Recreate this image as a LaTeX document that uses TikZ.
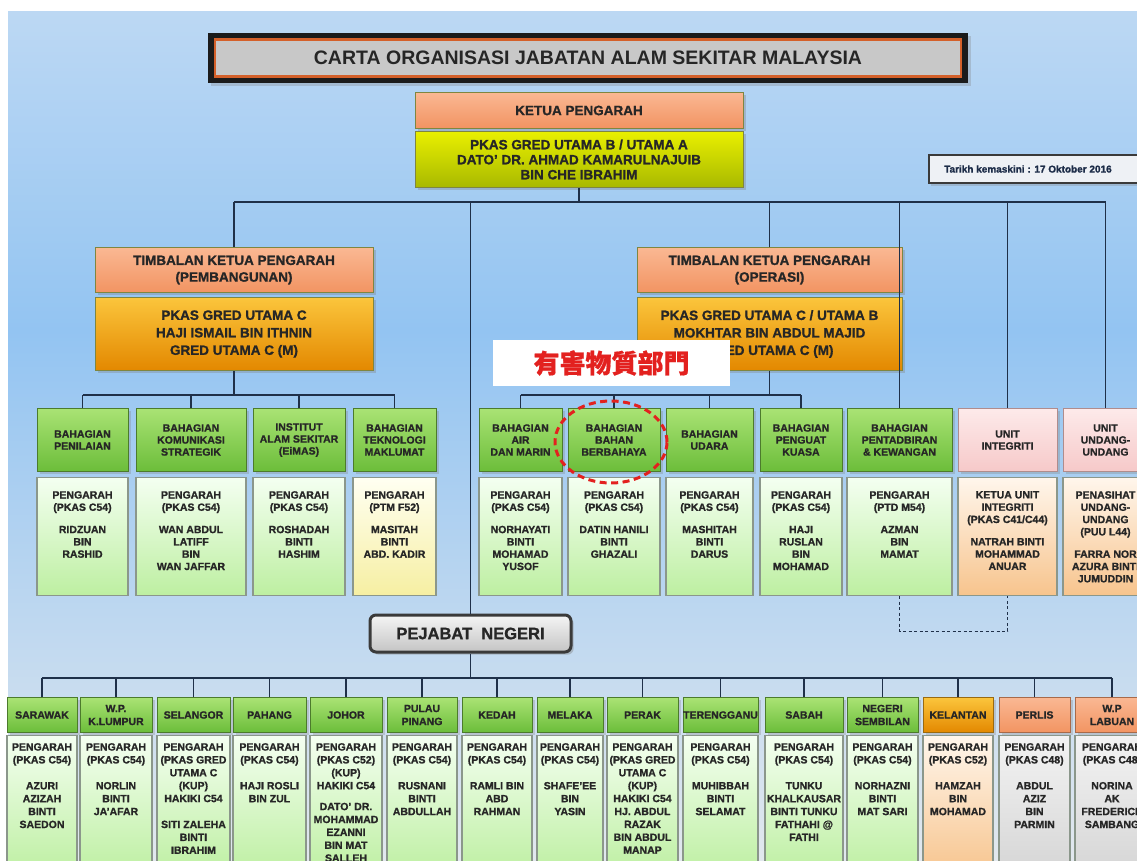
\documentclass[tikz,border=0pt]{standalone}
\usepackage{fontspec}
\setmainfont{Liberation Sans}[BoldFeatures={FakeBold=1.2}]
\newfontfamily\titlefont{Liberation Sans}
\newfontfamily\cjkfont{Noto Sans CJK TC}[FakeBold=0.7]
\usepackage{tikz}
\usetikzlibrary{positioning,shadows,shapes.geometric}

\definecolor{bgtop}{HTML}{BCD8F3}
\definecolor{bgmid}{HTML}{93C4F2}
\definecolor{bgbot}{HTML}{E2E8EE}
\definecolor{wire}{HTML}{1F3049}
\definecolor{ink}{HTML}{262626}
\definecolor{frame}{HTML}{1B1B1B}
\definecolor{titleorange}{HTML}{D4602A}
\definecolor{titlegrey}{HTML}{C8C8C8}
\definecolor{leadline}{HTML}{7F8640}
\definecolor{salT}{HTML}{FAB893}
\definecolor{salB}{HTML}{F29462}
\definecolor{orgT}{HTML}{FBC53C}
\definecolor{orgB}{HTML}{E38800}
\definecolor{limeT}{HTML}{E9F000}
\definecolor{limeB}{HTML}{A8B800}
\definecolor{grnT}{HTML}{AAE374}
\definecolor{grnB}{HTML}{6BBD3A}
\definecolor{grnLine}{HTML}{4C7B2C}
\definecolor{paleT}{HTML}{F4FFF1}
\definecolor{paleB}{HTML}{BDEFA1}
\definecolor{cellLine}{HTML}{8B978B}
\definecolor{pinkT}{HTML}{FDEAEA}
\definecolor{pinkB}{HTML}{F6C9C9}
\definecolor{roseLine}{HTML}{B08C8C}
\definecolor{peachT}{HTML}{FFF6EC}
\definecolor{peachB}{HTML}{F7C48D}
\definecolor{yelT}{HTML}{FFFFF2}
\definecolor{yelB}{HTML}{F6EFA2}
\definecolor{greyT}{HTML}{F3F3F3}
\definecolor{greyB}{HTML}{D5D5D5}
\definecolor{amberLine}{HTML}{9A6A10}
\definecolor{salLine}{HTML}{A86A4A}
\definecolor{datefill}{HTML}{EEF1F5}
\definecolor{datetxt}{HTML}{1C2C48}
\definecolor{pnline}{HTML}{3A3A3A}
\definecolor{pnT}{HTML}{F5F5F5}
\definecolor{pnB}{HTML}{C4C4C4}
\definecolor{alert}{HTML}{E3211F}

\tikzset{
  wire/.style={draw=wire, line width=1.6},
  cell/.style={rectangle, inner sep=0pt, align=center, text=ink},
  lead/.style={cell, anchor=north, draw=leadline, line width=1, drop shadow={opacity=.35}, font=\bfseries\fontsize{13.5}{15}\selectfont},
  hdr/.style={cell, anchor=north, draw=grnLine, line width=1, top color=grnT, bottom color=grnB, drop shadow={opacity=.3}, font=\bfseries\fontsize{10.5}{12}\selectfont},
  bdy/.style={cell, anchor=north, draw=cellLine, line width=1.2, top color=paleT, bottom color=paleB},
  shdr/.style={hdr, minimum height=35, font=\bfseries\fontsize{10.5}{13}\selectfont},
  sbdy/.style={bdy, minimum height=140},
  btxt/.style={cell, font=\bfseries\fontsize{10.5}{12.3}\selectfont},
  stxt/.style={cell, font=\bfseries\fontsize{10.5}{12.9}\selectfont},
  rosehdr/.style={draw=roseLine, top color=pinkT, bottom color=pinkB},
  amberhdr/.style={draw=amberLine, top color=orgT, bottom color=orgB},
  salmonhdr/.style={draw=salLine, top color=salT, bottom color=salB},
  peachbdy/.style={top color=peachT, bottom color=peachB},
  yelbdy/.style={top color=yelT, bottom color=yelB},
  greybdy/.style={top color=greyT, bottom color=greyB},
}

\begin{document}
\begin{tikzpicture}[x=1pt,y=-1pt]
\useasboundingbox (0,0) rectangle (1137,861);
\fill[white] (0,0) rectangle (1137,861);
\shade[top color=bgtop, bottom color=bgmid] (8,12) rectangle (1137,330);
\shade[top color=bgmid, bottom color=bgbot] (8,330) rectangle (1137,861);

\node[fill=frame, minimum width=760, minimum height=50, drop shadow={opacity=.3}] (titlefr) at (588,58) {};
\node[fill=titlegrey, draw=titleorange, line width=2.5, minimum width=746, minimum height=37, text=ink, font=\titlefont\bfseries\fontsize{19.5}{23}\selectfont] (title) at (titlefr.center) {CARTA ORGANISASI JABATAN ALAM SEKITAR MALAYSIA};

\node[lead, top color=salT, bottom color=salB, minimum width=328, minimum height=36] (kp) at (579,92) {KETUA PENGARAH};
\node[lead, top color=limeT, bottom color=limeB, minimum width=328, minimum height=56] (kp2) at (579,131) {PKAS GRED UTAMA B / UTAMA A\\DATO' DR. AHMAD KAMARULNAJUIB\\BIN CHE IBRAHIM};

\node[draw=pnline, line width=1.5, fill=datefill, minimum width=220, minimum height=28, anchor=west, drop shadow={opacity=.3}] (upd) at (928,169) {};
\node[inner sep=0pt, right=16pt of upd.west, text=datetxt, font=\bfseries\fontsize{10}{12}\selectfont] (updtxt) {Tarikh kemaskini : 17 Oktober 2016};

\node[lead, top color=salT, bottom color=salB, minimum width=278, minimum height=45, font=\bfseries\fontsize{13.5}{16.7}\selectfont] (tpL) at (234,247) {TIMBALAN KETUA PENGARAH\\(PEMBANGUNAN)};
\node[lead, top color=orgT, bottom color=orgB, minimum width=278, minimum height=73, font=\bfseries\fontsize{13.5}{17.5}\selectfont] (tpLb) at (234,297) {PKAS GRED UTAMA C\\HAJI ISMAIL BIN ITHNIN\\GRED UTAMA C (M)};
\node[lead, top color=salT, bottom color=salB, minimum width=265, minimum height=45, font=\bfseries\fontsize{13.5}{16.7}\selectfont] (tpR) at (769.5,247) {TIMBALAN KETUA PENGARAH\\(OPERASI)};
\node[lead, top color=orgT, bottom color=orgB, minimum width=265, minimum height=73, font=\bfseries\fontsize{13.5}{17.5}\selectfont] (tpRb) at (769.5,297) {PKAS GRED UTAMA C / UTAMA B\\MOKHTAR BIN ABDUL MAJID\\GRED UTAMA C (M)};

\node[hdr, minimum width=91, minimum height=63] (h1) at (82.5,408) {BAHAGIAN\\PENILAIAN};
\node[hdr, minimum width=110, minimum height=63] (h2) at (191,408) {BAHAGIAN\\KOMUNIKASI\\STRATEGIK};
\node[hdr, minimum width=92, minimum height=63] (h3) at (299,408) {INSTITUT\\ALAM SEKITAR\\(EiMAS)};
\node[hdr, minimum width=83, minimum height=63] (h4) at (394.5,408) {BAHAGIAN\\TEKNOLOGI\\MAKLUMAT};
\node[hdr, minimum width=83, minimum height=63] (h5) at (520.5,408) {BAHAGIAN\\AIR\\DAN MARIN};
\node[hdr, minimum width=92, minimum height=63] (h6) at (614,408) {BAHAGIAN\\BAHAN\\BERBAHAYA};
\node[hdr, minimum width=87, minimum height=63] (h7) at (709.5,408) {BAHAGIAN\\UDARA};
\node[hdr, minimum width=82, minimum height=63] (h8) at (801,408) {BAHAGIAN\\PENGUAT\\KUASA};
\node[hdr, minimum width=105, minimum height=63] (h9) at (899.5,408) {BAHAGIAN\\PENTADBIRAN\\\& KEWANGAN};
\node[hdr, rosehdr, minimum width=99, minimum height=63] (h10) at (1007.5,408) {UNIT\\INTEGRITI};
\node[hdr, rosehdr, minimum width=85, minimum height=63] (h11) at (1105.5,408) {UNIT\\UNDANG-\\UNDANG};

\node[bdy, minimum width=91, minimum height=118] (b1) at (82.5,477) {};
\node[bdy, minimum width=110, minimum height=118] (b2) at (191,477) {};
\node[bdy, minimum width=92, minimum height=118] (b3) at (299,477) {};
\node[bdy, yelbdy, minimum width=83, minimum height=118] (b4) at (394.5,477) {};
\node[bdy, minimum width=83, minimum height=118] (b5) at (520.5,477) {};
\node[bdy, minimum width=92, minimum height=118] (b6) at (614,477) {};
\node[bdy, minimum width=87, minimum height=118] (b7) at (709.5,477) {};
\node[bdy, minimum width=82, minimum height=118] (b8) at (801,477) {};
\node[bdy, minimum width=105, minimum height=118] (b9) at (899.5,477) {};
\node[bdy, peachbdy, minimum width=99, minimum height=118] (b10) at (1007.5,477) {};
\node[bdy, peachbdy, minimum width=85, minimum height=118] (b11) at (1105.5,477) {};

\node[btxt, below=14pt of b1.north] (t1) {PENGARAH\\(PKAS C54)\\[10pt]RIDZUAN\\BIN\\RASHID};
\node[btxt, below=14pt of b2.north] (t2) {PENGARAH\\(PKAS C54)\\[10pt]WAN ABDUL\\LATIFF\\BIN\\WAN JAFFAR};
\node[btxt, below=14pt of b3.north] (t3) {PENGARAH\\(PKAS C54)\\[10pt]ROSHADAH\\BINTI\\HASHIM};
\node[btxt, below=14pt of b4.north] (t4) {PENGARAH\\(PTM F52)\\[10pt]MASITAH\\BINTI\\ABD. KADIR};
\node[btxt, below=14pt of b5.north] (t5) {PENGARAH\\(PKAS C54)\\[10pt]NORHAYATI\\BINTI\\MOHAMAD\\YUSOF};
\node[btxt, below=14pt of b6.north] (t6) {PENGARAH\\(PKAS C54)\\[10pt]DATIN HANILI\\BINTI\\GHAZALI};
\node[btxt, below=14pt of b7.north] (t7) {PENGARAH\\(PKAS C54)\\[10pt]MASHITAH\\BINTI\\DARUS};
\node[btxt, below=14pt of b8.north] (t8) {PENGARAH\\(PKAS C54)\\[10pt]HAJI\\RUSLAN\\BIN\\MOHAMAD};
\node[btxt, below=14pt of b9.north] (t9) {PENGARAH\\(PTD M54)\\[10pt]AZMAN\\BIN\\MAMAT};
\node[btxt, below=14pt of b10.north] (t10) {KETUA UNIT\\INTEGRITI\\(PKAS C41/C44)\\[10pt]NATRAH BINTI\\MOHAMMAD\\ANUAR};
\node[btxt, below=14pt of b11.north] (t11) {PENASIHAT\\UNDANG-\\UNDANG\\(PUU L44)\\[10pt]FARRA NOR\\AZURA BINTI\\JUMUDDIN};

\node[rounded corners=6, draw=pnline, line width=3, top color=pnT, bottom color=pnB, minimum width=201, minimum height=37, text=ink, drop shadow={opacity=.4}, font=\bfseries\fontsize{16.5}{19}\selectfont] (pn) at (470.5,633.5) {PEJABAT\ \ NEGERI};

\node[shdr, minimum width=70] (s1) at (42,697) {SARAWAK};
\node[shdr, minimum width=72] (s2) at (116,697) {W.P.\\K.LUMPUR};
\node[shdr, minimum width=73] (s3) at (193.5,697) {SELANGOR};
\node[shdr, minimum width=73] (s4) at (269.5,697) {PAHANG};
\node[shdr, minimum width=72] (s5) at (346,697) {JOHOR};
\node[shdr, minimum width=70] (s6) at (422,697) {PULAU\\PINANG};
\node[shdr, minimum width=70] (s7) at (497,697) {KEDAH};
\node[shdr, minimum width=66] (s8) at (570,697) {MELAKA};
\node[shdr, minimum width=71] (s9) at (642.5,697) {PERAK};
\node[shdr, minimum width=75] (s10) at (720.5,697) {TERENGGANU};
\node[shdr, minimum width=78] (s11) at (804,697) {SABAH};
\node[shdr, minimum width=71] (s12) at (882.5,697) {NEGERI\\SEMBILAN};
\node[shdr, amberhdr, minimum width=70] (s13) at (958,697) {KELANTAN};
\node[shdr, salmonhdr, minimum width=71] (s14) at (1034.5,697) {PERLIS};
\node[shdr, salmonhdr, minimum width=74] (s15) at (1112,697) {W.P\\LABUAN};

\node[sbdy, minimum width=70] (c1) at (42,735) {};
\node[sbdy, minimum width=72] (c2) at (116,735) {};
\node[sbdy, minimum width=73] (c3) at (193.5,735) {};
\node[sbdy, minimum width=73] (c4) at (269.5,735) {};
\node[sbdy, minimum width=72] (c5) at (346,735) {};
\node[sbdy, minimum width=70] (c6) at (422,735) {};
\node[sbdy, minimum width=70] (c7) at (497,735) {};
\node[sbdy, minimum width=66] (c8) at (570,735) {};
\node[sbdy, minimum width=71] (c9) at (642.5,735) {};
\node[sbdy, minimum width=75] (c10) at (720.5,735) {};
\node[sbdy, minimum width=78] (c11) at (804,735) {};
\node[sbdy, minimum width=71] (c12) at (882.5,735) {};
\node[sbdy, peachbdy, minimum width=70] (c13) at (958,735) {};
\node[sbdy, greybdy, minimum width=71] (c14) at (1034.5,735) {};
\node[sbdy, greybdy, minimum width=74] (c15) at (1112,735) {};

\node[stxt, below=8pt of c1.north] (u1) {PENGARAH\\(PKAS C54)\\[13pt]AZURI\\AZIZAH\\BINTI\\SAEDON};
\node[stxt, below=8pt of c2.north] (u2) {PENGARAH\\(PKAS C54)\\[13pt]NORLIN\\BINTI\\JA'AFAR};
\node[stxt, below=8pt of c3.north] (u3) {PENGARAH\\(PKAS GRED\\UTAMA C\\(KUP)\\HAKIKI C54\\[13pt]SITI ZALEHA\\BINTI\\IBRAHIM};
\node[stxt, below=8pt of c4.north] (u4) {PENGARAH\\(PKAS C54)\\[13pt]HAJI ROSLI\\BIN ZUL};
\node[stxt, below=8pt of c5.north] (u5) {PENGARAH\\(PKAS C52)\\(KUP)\\HAKIKI C54\\[8pt]DATO' DR.\\MOHAMMAD\\EZANNI\\BIN MAT\\SALLEH};
\node[stxt, below=8pt of c6.north] (u6) {PENGARAH\\(PKAS C54)\\[13pt]RUSNANI\\BINTI\\ABDULLAH};
\node[stxt, below=8pt of c7.north] (u7) {PENGARAH\\(PKAS C54)\\[13pt]RAMLI BIN\\ABD\\RAHMAN};
\node[stxt, below=8pt of c8.north] (u8) {PENGARAH\\(PKAS C54)\\[13pt]SHAFE'EE\\BIN\\YASIN};
\node[stxt, below=8pt of c9.north] (u9) {PENGARAH\\(PKAS GRED\\UTAMA C\\(KUP)\\HAKIKI C54\\HJ. ABDUL\\RAZAK\\BIN ABDUL\\MANAP};
\node[stxt, below=8pt of c10.north] (u10) {PENGARAH\\(PKAS C54)\\[13pt]MUHIBBAH\\BINTI\\SELAMAT};
\node[stxt, below=8pt of c11.north] (u11) {PENGARAH\\(PKAS C54)\\[13pt]TUNKU\\KHALKAUSAR\\BINTI TUNKU\\FATHAHI @\\FATHI};
\node[stxt, below=8pt of c12.north] (u12) {PENGARAH\\(PKAS C54)\\[13pt]NORHAZNI\\BINTI\\MAT SARI};
\node[stxt, below=8pt of c13.north] (u13) {PENGARAH\\(PKAS C52)\\[13pt]HAMZAH\\BIN\\MOHAMAD};
\node[stxt, below=8pt of c14.north] (u14) {PENGARAH\\(PKAS C48)\\[13pt]ABDUL\\AZIZ\\BIN\\PARMIN};
\node[stxt, below=8pt of c15.north] (u15) {PENGARAH\\(PKAS C48)\\[13pt]NORINA\\AK\\FREDERICK\\SAMBANG};

\coordinate (busTop) at (0,202);
\coordinate (busMid) at (0,395);
\coordinate (busLow) at (0,678);
\draw[wire] (kp2.south) -- (kp2.south |- busTop);
\draw[wire] (tpL.north |- busTop) -- (h11.north |- busTop);
\foreach \n in {tpL,pn,tpR,h9,h10,h11}
  \draw[wire] (\n.north |- busTop) -- (\n.north);
\draw[wire] (tpLb.south) -- (tpLb.south |- busMid);
\draw[wire] (tpRb.south) -- (tpRb.south |- busMid);
\draw[wire] (h1.north |- busMid) -- (h4.north |- busMid);
\draw[wire] (h5.north |- busMid) -- (h8.north |- busMid);
\foreach \n in {h1,h2,h3,h4,h5,h6,h7,h8}
  \draw[wire] (\n.north |- busMid) -- (\n.north);
\draw[wire, line width=1.2, dash pattern=on 3pt off 2.5pt] (b9.south) -- ++(0,35) -| (b10.south);
\draw[wire] (pn.south) -- (pn.south |- busLow);
\draw[wire] (s1.north |- busLow) -- (s15.north |- busLow);
\foreach \i in {1,...,15}
  \draw[wire] (s\i.north |- busLow) -- (s\i.north);

\node[fill=white, minimum width=237, minimum height=46, text=alert, font=\cjkfont\bfseries\fontsize{26}{29}\selectfont] (hazlbl) at (611.5,363) {有害物質部門};
\node[ellipse, draw=alert, line width=3, dash pattern=on 7pt off 4.5pt, minimum width=112, minimum height=82] (ring) at (611,442) {};
\end{tikzpicture}
\end{document}
